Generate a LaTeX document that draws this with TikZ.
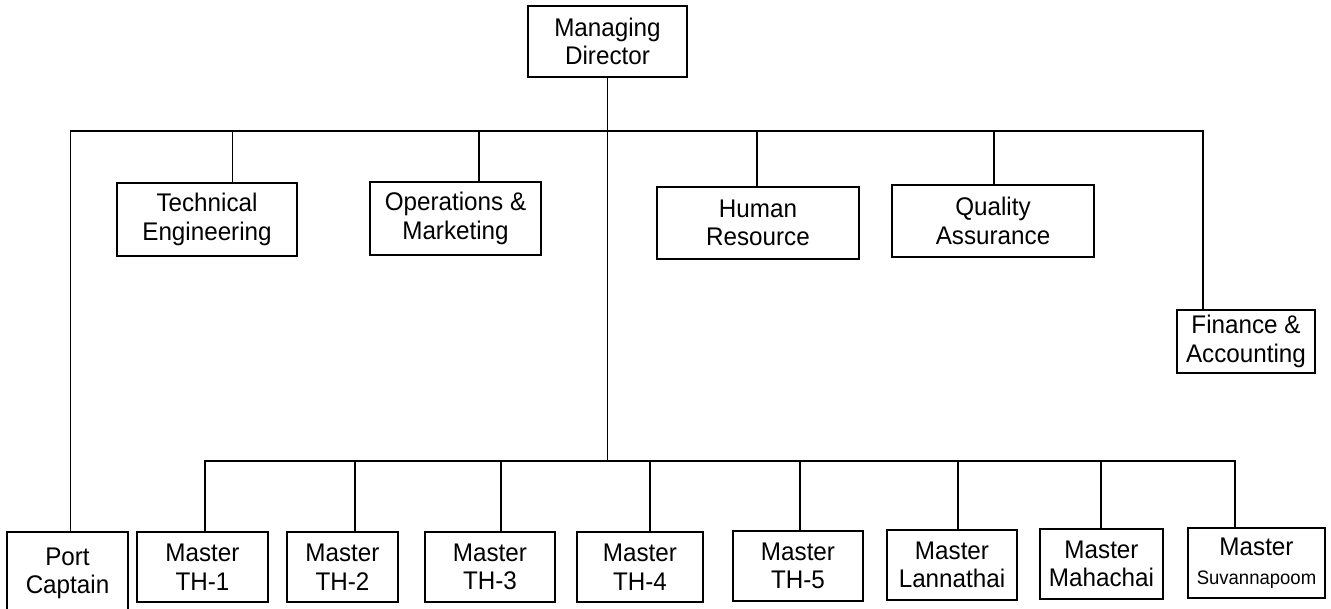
\documentclass[tikz,border=0pt]{standalone}
\usepackage{fontspec}
\setmainfont{Liberation Sans}[FakeStretch=0.95]
\begin{document}
\begin{tikzpicture}[x=1pt,y=-1pt,
  unit/.style={draw=black, line width=1.8pt, align=center, inner sep=0pt,
    font=\fontsize{25.5}{28.5}\selectfont},
  link/.style={line width=1.2pt}]
\useasboundingbox (0,0) rectangle (1331,608);

% top of the chart
\node[unit, minimum width=159, minimum height=71] (md) at (607.5,41.5) {Managing\\Director};

% departments
\node[unit, minimum width=180, minimum height=73] (tech) at (207,219.5) {Technical\\Engineering};
\node[unit, minimum width=171, minimum height=73] (ops)  at (455.5,218.5) {Operations \&\\Marketing};
\node[unit, minimum width=202, minimum height=72] (hr)   at (758,223) {Human\\Resource};
\node[unit, minimum width=202, minimum height=72] (qa)   at (993,221) {Quality\\Assurance};
\node[unit, minimum width=138, minimum height=63] (fin)  at (1246,341.5) {Finance \&\\Accounting};

% fleet
\node[unit, minimum width=121, minimum height=83] (port) at (67.5,573.5) {Port\\Captain};
\node[unit, minimum width=131, minimum height=70] (th1) at (202.5,567) {Master\\TH-1};
\node[unit, minimum width=111, minimum height=70] (th2) at (342.5,567) {Master\\TH-2};
\node[unit, minimum width=130, minimum height=70] (th3) at (490,567) {Master\\TH-3};
\node[unit, minimum width=126, minimum height=70] (th4) at (640,567) {Master\\TH-4};
\node[unit, minimum width=130, minimum height=70] (th5) at (798,566) {Master\\TH-5};
\node[unit, minimum width=130, minimum height=70] (lan) at (952,565) {Master\\Lannathai};
\node[unit, minimum width=123, minimum height=70] (mah) at (1101.5,564) {Master\\Mahachai};
\node[unit, minimum width=137, minimum height=70] (suv) at (1256.5,563)
  {Master\\{\fontsize{19.5}{28.5}\selectfont Suvannapoom}};

% upper bus
\coordinate (tl) at (70.7,131);
\coordinate (tr) at (1203,131);
\coordinate (ttech) at (232.7,131);
\coordinate (tops) at (479,131);
\coordinate (thr) at (757,131);
\coordinate (tqa) at (994,131);

% lower bus
\coordinate (bl) at (205,461);
\coordinate (br) at (1235,461);
\coordinate (b2) at (355,461);
\coordinate (b3) at (501,461);
\coordinate (b4) at (650,461);
\coordinate (b5) at (800,461);
\coordinate (blan) at (958,461);
\coordinate (bmah) at (1101,461);

\draw[link] (port.north -| tl) -- (tl) -- (tr) -- (fin.north -| tr);
\draw[link] (ttech) -- (tech.north -| ttech);
\draw[link] (tops) -- (ops.north -| tops);
\draw[link] (thr) -- (hr.north -| thr);
\draw[link] (tqa) -- (qa.north -| tqa);

\draw[link] (md.south) -- (md.south |- bl);
\draw[link] (th1.north -| bl) -- (bl) -- (br) -- (suv.north -| br);
\draw[link] (b2) -- (th2.north -| b2);
\draw[link] (b3) -- (th3.north -| b3);
\draw[link] (b4) -- (th4.north -| b4);
\draw[link] (b5) -- (th5.north -| b5);
\draw[link] (blan) -- (lan.north -| blan);
\draw[link] (bmah) -- (mah.north -| bmah);
\end{tikzpicture}
\end{document}
